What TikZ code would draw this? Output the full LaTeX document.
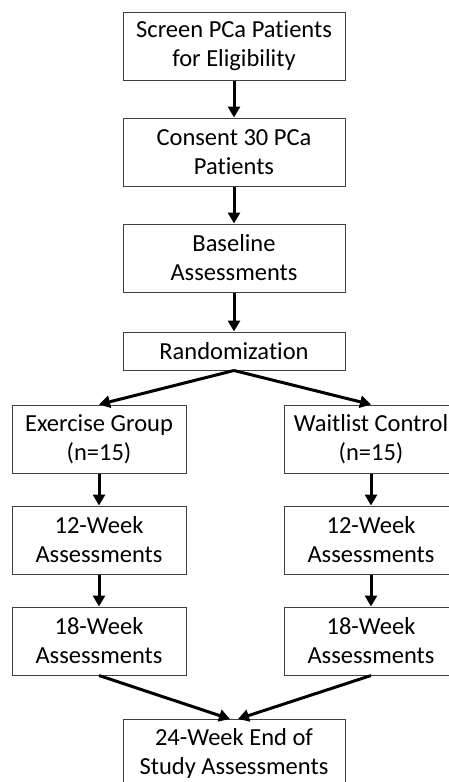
\documentclass[tikz,border=0pt]{standalone}
\usepackage{fontspec}
\setmainfont{Carlito}[RawFeature=-liga]
\usetikzlibrary{arrows.meta}
\begin{document}
\begin{tikzpicture}[x=1pt,y=-1pt,
    box/.style={draw=black!75, line width=1pt, inner sep=0pt, align=center,
      minimum width=222pt, minimum height=68pt,
      font=\fontsize{24.5}{29}\selectfont},
    armbox/.style={box, minimum width=174pt},
    flow/.style={line width=3pt, -{Triangle[length=11pt,width=12pt]}}]
  \useasboundingbox (0,0) rectangle (449,782);
  \draw
    (234,46) node[box] (screen){Screen PCa Patients\\for Eligibility}
    (234,152) node[box] (consent){Consent 30 PCa\\Patients}
    (234,258) node[box] (baseline){Baseline\\Assessments}
    (234,351) node[box, minimum height=38pt] (random){Randomization}
    (99,439) node[armbox] (exgroup){Exercise Group\\(n=15)}
    (371,439) node[armbox] (wlgroup){Waitlist Control\\(n=15)}
    (99,540) node[armbox] (ex12){12-Week\\Assessments}
    (371,540) node[armbox] (wl12){12-Week\\Assessments}
    (99,641) node[armbox] (ex18){18-Week\\Assessments}
    (371,641) node[armbox] (wl18){18-Week\\Assessments}
    (234,753) node[box] (final){24-Week End of\\Study Assessments};
  \coordinate (finalL) at (230,719);
  \coordinate (finalR) at (238,719);
  \begin{scope}[flow]
    \draw (screen) to (consent);
    \draw (consent) to (baseline);
    \draw (baseline) to (random);
    \draw (random.south) to (exgroup.north);
    \draw (random.south) to (wlgroup.north);
    \draw (exgroup) to (ex12);
    \draw (ex12) to (ex18);
    \draw (wlgroup) to (wl12);
    \draw (wl12) to (wl18);
    \draw (ex18.south) to (finalL);
    \draw (wl18.south) to (finalR);
  \end{scope}
\end{tikzpicture}
\end{document}
